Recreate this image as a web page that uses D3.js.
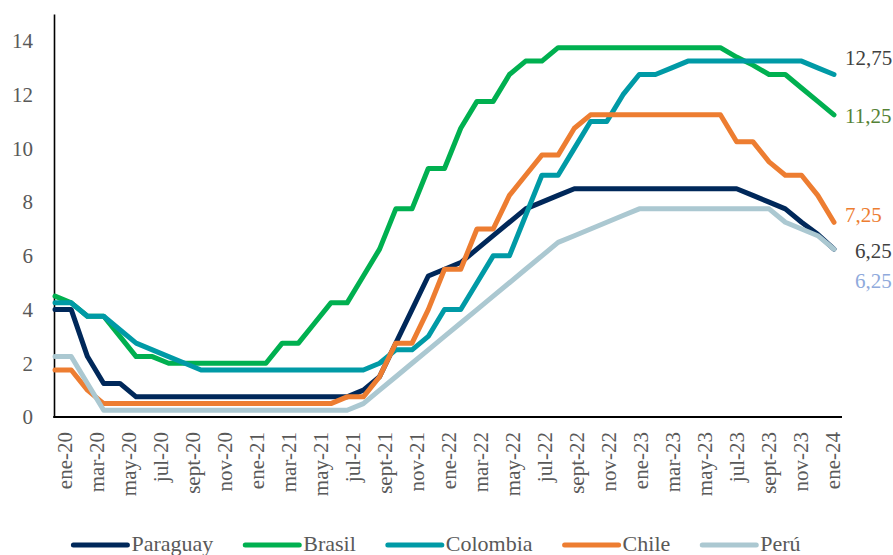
<!DOCTYPE html>
<html>
<head>
<meta charset="utf-8">
<script src="https://cdn.jsdelivr.net/npm/d3@7"></script>
<style>
  html, body { margin: 0; padding: 0; background: #fff; }
  svg { display: block; font-family: "Liberation Serif", "Times New Roman", serif; }
</style>
</head>
<body>
<div id="chart"></div>
<script>
// months ene-20 .. ene-24
var monthNames = ['ene', 'feb', 'mar', 'abr', 'may', 'jun', 'jul', 'ago', 'sept', 'oct', 'nov', 'dic']
var months = []
for (var yr = 20; yr <= 24; yr++) {
	monthNames.forEach(function (m) { months.push(m + '-' + yr) })
}
months = months.slice(0, 49)

var paraguay = [4, 4, 2.25, 1.25, 1.25, 0.75, 0.75, 0.75, 0.75, 0.75, 0.75, 0.75,
	0.75, 0.75, 0.75, 0.75, 0.75, 0.75, 0.75, 1, 1.5, 2.75, 4, 5.25,
	5.5, 5.75, 6.25, 6.75, 7.25, 7.75, 8, 8.25, 8.5, 8.5, 8.5, 8.5,
	8.5, 8.5, 8.5, 8.5, 8.5, 8.5, 8.5, 8.25, 8, 7.75, 7.25, 6.8,
	6.25]
var brasil = [4.5, 4.25, 3.75, 3.75, 3, 2.25, 2.25, 2, 2, 2, 2, 2,
	2, 2, 2.75, 2.75, 3.5, 4.25, 4.25, 5.25, 6.25, 7.75, 7.75, 9.25,
	9.25, 10.75, 11.75, 11.75, 12.75, 13.25, 13.25, 13.75, 13.75, 13.75, 13.75, 13.75,
	13.75, 13.75, 13.75, 13.75, 13.75, 13.75, 13.4, 13.1, 12.75, 12.75, 12.25, 11.75,
	11.25]
var colombia = [4.25, 4.25, 3.75, 3.75, 3.25, 2.75, 2.5, 2.25, 2, 1.75, 1.75, 1.75,
	1.75, 1.75, 1.75, 1.75, 1.75, 1.75, 1.75, 1.75, 2, 2.5, 2.5, 3,
	4, 4, 5, 6, 6, 7.5, 9, 9, 10, 11, 11, 12,
	12.75, 12.75, 13, 13.25, 13.25, 13.25, 13.25, 13.25, 13.25, 13.25, 13.25, 13,
	12.75]
var chile = [1.75, 1.75, 1, 0.5, 0.5, 0.5, 0.5, 0.5, 0.5, 0.5, 0.5, 0.5,
	0.5, 0.5, 0.5, 0.5, 0.5, 0.5, 0.75, 0.75, 1.5, 2.75, 2.75, 4,
	5.5, 5.5, 7, 7, 8.25, 9, 9.75, 9.75, 10.75, 11.25, 11.25, 11.25,
	11.25, 11.25, 11.25, 11.25, 11.25, 11.25, 10.25, 10.25, 9.5, 9, 9, 8.25,
	7.25]
var peru = [2.25, 2.25, 1.25, 0.25, 0.25, 0.25, 0.25, 0.25, 0.25, 0.25, 0.25, 0.25,
	0.25, 0.25, 0.25, 0.25, 0.25, 0.25, 0.25, 0.5, 1, 1.5, 2, 2.5,
	3, 3.5, 4, 4.5, 5, 5.5, 6, 6.5, 6.75, 7, 7.25, 7.5,
	7.75, 7.75, 7.75, 7.75, 7.75, 7.75, 7.75, 7.75, 7.75, 7.25, 7, 6.75,
	6.25]

var seriesNames = ['Paraguay', 'Brasil', 'Colombia', 'Chile', 'Perú']
var seriesValues = [paraguay, brasil, colombia, chile, peru]
var seriesColors = ['#00285a', '#00b050', '#009aa6', '#ed7d31', '#abc8d1']

var yTicks = [0, 2, 4, 6, 8, 10, 12, 14]

// end labels (last value of a series, as printed)
var endLabelText = ['12,75', '11,25', '7,25', '6,25', '6,25']
var endLabelSeries = [2, 1, 3, 0, 4]
var endLabelColors = ['#404040', '#548235', '#ed7d31', '#404040', '#8faadc']
var endLabelDx = [11, 11, 11, 21, 21]  // nudges, like Excel's manual label placement
var endLabelDy = [-10, 8, 0, 9, 39]

var W = 893, H = 555
var svg = d3.select('#chart').append('svg')
	.attr('width', W)
	.attr('height', H)

var x = d3.scalePoint().domain(months).range([55, 834])
var xLab = d3.scalePoint().domain(months).range([63.5, 831.5])
var y = d3.scaleLinear().domain([0, 15]).range([417, 14.1])

var textColor = '#595959'
var fontSize = '21px'

// y axis
var yAxis = svg.append('g')
	.attr('transform', 'translate(54,0)')
	.call(d3.axisLeft(y).tickValues(yTicks).tickSize(0).tickSizeOuter(0).tickPadding(21))
yAxis.select('.domain').attr('stroke', '#000').attr('stroke-width', 1.6)
yAxis.selectAll('text')
	.attr('fill', textColor)
	.style('font-size', fontSize)
	.style('font-family', '"Liberation Serif", serif')

// x axis labels (every second month)
var xAxis = svg.append('g')
	.attr('transform', 'translate(0,417)')
	.call(d3.axisBottom(xLab).tickValues(months.filter(function (d, i) { return i % 2 === 0 })).tickSize(0))
xAxis.select('.domain').remove()
xAxis.selectAll('text')
	.attr('transform', 'rotate(-90)')
	.attr('text-anchor', 'end')
	.attr('x', -15)
	.attr('y', 0)
	.attr('dy', '0.36em')
	.attr('fill', textColor)
	.style('font-size', fontSize)
	.style('font-family', '"Liberation Serif", serif')

// x axis line
svg.append('line')
	.attr('x1', 53.2).attr('x2', 842)
	.attr('y1', y(0)).attr('y2', y(0))
	.attr('stroke', '#000')
	.attr('stroke-width', 2)

// series
var line = d3.line()
	.x(function (d, i) { return x(months[i]) })
	.y(function (d) { return y(d) })

svg.append('g').selectAll('path')
	.data(seriesValues)
	.join('path')
	.attr('d', line)
	.attr('fill', 'none')
	.attr('stroke', function (d, i) { return seriesColors[i] })
	.attr('stroke-width', 5)
	.attr('stroke-linejoin', 'round')
	.attr('stroke-linecap', 'round')

// end labels
var last = months[months.length - 1]
svg.append('g').selectAll('text')
	.data(endLabelText)
	.join('text')
	.attr('x', function (d, i) { return x(last) + endLabelDx[i] })
	.attr('y', function (d, i) {
		var vals = seriesValues[endLabelSeries[i]]
		return y(vals[vals.length - 1]) + endLabelDy[i]
	})
	.attr('fill', function (d, i) { return endLabelColors[i] })
	.style('font-size', fontSize)
	.text(function (d) { return d })

// legend
var legend = svg.append('g').attr('transform', 'translate(0,545)')
var items = legend.selectAll('g')
	.data(seriesNames)
	.join('g')
items.append('line')
	.attr('x1', 0).attr('x2', 54)
	.attr('stroke', function (d, i) { return seriesColors[i] })
	.attr('stroke-width', 5)
	.attr('stroke-linecap', 'round')
items.append('text')
	.attr('x', 58)
	.attr('y', 6)
	.attr('fill', textColor)
	.style('font-size', '22px')
	.text(function (d) { return d })

var offsets = [], pos = 0
items.each(function () {
	offsets.push(pos)
	pos += 58 + d3.select(this).select('text').node().getComputedTextLength() + 32
})
var total = pos - 32
var start = 437 - total / 2
items.attr('transform', function (d, i) { return 'translate(' + (start + offsets[i]) + ',0)' })
</script>
</body>
</html>
